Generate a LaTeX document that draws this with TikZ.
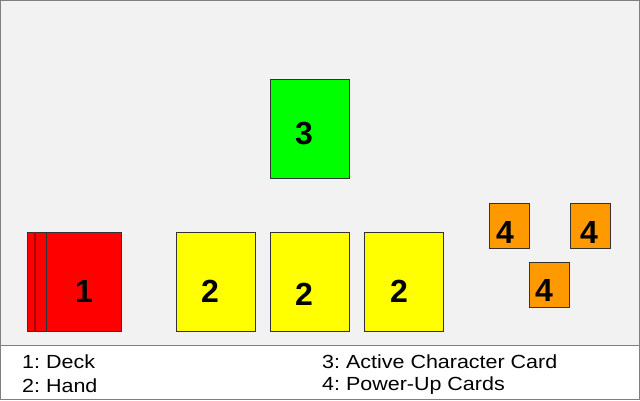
\documentclass[tikz,border=0pt]{standalone}
\usepackage{fontspec}
\setmainfont{Liberation Sans}
\frenchspacing
\definecolor{boardgray}{HTML}{F2F2F2}
\definecolor{framegray}{HTML}{7F7F7F}
\definecolor{deckred}{HTML}{FF0000}
\definecolor{deckedge}{HTML}{B00000}
\definecolor{handyellow}{HTML}{FFFF00}
\definecolor{activegreen}{HTML}{00FF00}
\definecolor{powerorange}{HTML}{FF9900}
\tikzset{
  card/.style={rectangle,draw=black!80,line width=0.8pt,inner sep=0pt,anchor=north west},
  bigcard/.style={card,minimum width=79pt,minimum height=99pt},
  smallcard/.style={card,minimum width=40pt,minimum height=45pt},
  cardnum/.style={font=\bfseries\fontsize{32}{38}\selectfont,inner sep=0pt},
  legend/.style={anchor=west,font=\fontsize{19}{23}\selectfont,inner sep=0pt,xscale=1.13,transform shape}
}
\begin{document}
\begin{tikzpicture}[x=1pt,y=-1pt]

        \useasboundingbox (0,0) rectangle (640,400);
        \fill[white] (0,0) rectangle (640,400);
        \fill[boardgray] (0,0) rectangle (640,345);
        \draw[framegray] (0.5,0.5) rectangle (639.5,399.5);
        \draw[framegray] (0,345) -- (640,345);

        % deck
        \begin{scope}[every node/.style={bigcard,fill=deckred}]
          \node (d1) at (27,232) [minimum width=94pt] {};
          \node (d2) at (34.5,232) [minimum width=86.5pt] {};
          \node (d3) at (46,232) [minimum width=75pt] {};
        \end{scope}
        \draw[deckedge,line width=2pt] (d2.north west) -- (d2.south west);

        % hand
        \begin{scope}[every node/.style={bigcard,fill=handyellow}]
          \node (h1) at (176,232) {};
          \node (h2) at (270,232) {};
          \node (h3) at (364,232) {};
        \end{scope}

        % active character
        \node[bigcard,fill=activegreen] (act) at (270,79) {};

        % power-ups
        \begin{scope}[every node/.style={smallcard,fill=powerorange}]
          \node (p1) at (489,203) {};
          \node (p2) at (570,203) {};
          \node (p3) at (529,262) {};
        \end{scope}

        \begin{scope}[every node/.style={cardnum}]
          \node (n1)  at (84,291)  {1};
          \node (n2a) at (210,291) {2};
          \node (n2b) at (304,294) {2};
          \node (n2c) at (399,291) {2};
          \node (n3)  at (304,134) {3};
          \node (n4a) at (505,232) {4};
          \node (n4b) at (589,232) {4};
          \node (n4c) at (544,290) {4};
        \end{scope}

        \begin{scope}[every node/.style={legend}]
          \node (l1) at (22,361.5) {1: Deck};
          \node (l2) at (22,386)   {2: Hand};
          \node (l3) at (322,361.5) {3: Active Character Card};
          \node (l4) at (322,386)  {4: Power-Up Cards};
        \end{scope}

      \end{tikzpicture}
\end{document}
